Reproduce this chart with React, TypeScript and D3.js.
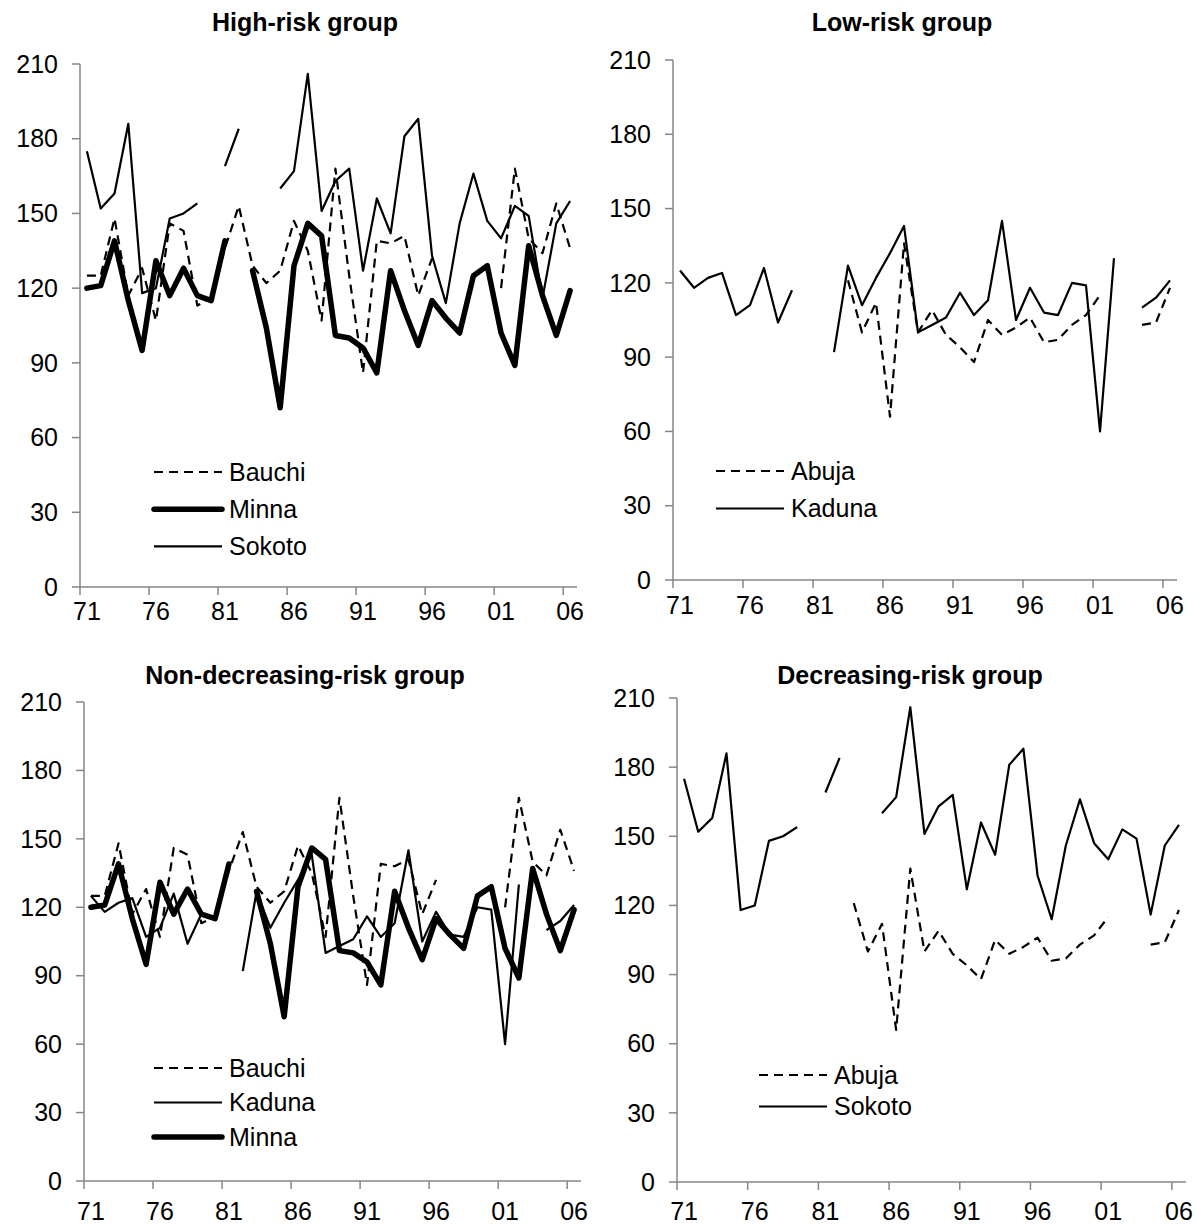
import React from 'react';
import * as d3 from 'd3';

// years on the category axis (1971..2006)
const years = [
  1971, 1972, 1973, 1974, 1975, 1976, 1977, 1978, 1979, 1980,
  1981, 1982, 1983, 1984, 1985, 1986, 1987, 1988, 1989, 1990,
  1991, 1992, 1993, 1994, 1995, 1996, 1997, 1998, 1999, 2000,
  2001, 2002, 2003, 2004, 2005, 2006,
];
const tickYears = [1971, 1976, 1981, 1986, 1991, 1996, 2001, 2006];
const tickLabels = ['71', '76', '81', '86', '91', '96', '01', '06'];
const yTicks = [0, 30, 60, 90, 120, 150, 180, 210];

const bauchi = [
  125, 125, 148, 117, 128, 107, 146, 143, 113, 116,
  136, 153, 129, 122, 127, 147, 135, 107, 168, 125,
  86, 139, 138, 141, 117, 132, null, null, null, null,
  120, 168, 140, 134, 154, 136,
];
const minna = [
  120, 121, 139, 115, 95, 131, 117, 128, 117, 115,
  139, null, 127, 104, 72, 129, 146, 141, 101, 100,
  96, 86, 127, 111, 97, 115, 108, 102, 125, 129,
  102, 89, 137, 117, 101, 119,
];
const sokoto = [
  175, 152, 158, 186, 118, 120, 148, 150, 154, null,
  169, 184, null, null, 160, 167, 206, 151, 163, 168,
  127, 156, 142, 181, 188, 133, 114, 146, 166, 147,
  140, 153, 149, 116, 146, 155,
];
const kaduna = [
  125, 118, 122, 124, 107, 111, 126, 104, 117, null,
  null, 92, 127, 111, 122, 132, 143, 100, 103, 106,
  116, 107, 113, 145, 105, 118, 108, 107, 120, 119,
  60, 130, null, 110, 114, 121,
];
const abuja = [
  null, null, null, null, null, null, null, null, null, null,
  null, null, 121, 100, 112, 66, 136, 100, 109, 99,
  94, 88, 105, 99, 102, 106, 96, 97, 103, 107,
  115, null, null, 103, 104, 118,
];

const lineStyles = {
  dashed: { width: 2.2, dash: '9,6' },
  thick: { width: 5.5, dash: undefined },
  thin: { width: 2.2, dash: undefined },
};

const panels = [
  {
    title: 'High-risk group',
    titleX: 305, titleY: 31,
    box: { left: 80, right: 577, top: 64, bottom: 587 },
    labelGap: 33,
    legend: { x: 154, y: 472, step: 37.2 },
    series: [
      { name: 'Bauchi', values: bauchi, style: 'dashed' },
      { name: 'Minna', values: minna, style: 'thick' },
      { name: 'Sokoto', values: sokoto, style: 'thin' },
    ],
  },
  {
    title: 'Low-risk group',
    titleX: 902, titleY: 31,
    box: { left: 673, right: 1177, top: 60, bottom: 580 },
    labelGap: 34,
    legend: { x: 716, y: 471, step: 37.5 },
    series: [
      { name: 'Abuja', values: abuja, style: 'dashed' },
      { name: 'Kaduna', values: kaduna, style: 'thin' },
    ],
  },
  {
    title: 'Non-decreasing-risk group',
    titleX: 305, titleY: 684,
    box: { left: 84, right: 581, top: 702, bottom: 1181 },
    labelGap: 39,
    legend: { x: 154, y: 1068, step: 34.5 },
    series: [
      { name: 'Bauchi', values: bauchi, style: 'dashed' },
      { name: 'Kaduna', values: kaduna, style: 'thin' },
      { name: 'Minna', values: minna, style: 'thick' },
    ],
  },
  {
    title: 'Decreasing-risk group',
    titleX: 910, titleY: 684,
    box: { left: 677, right: 1186, top: 698, bottom: 1182 },
    labelGap: 38,
    legend: { x: 759, y: 1075, step: 31.5 },
    series: [
      { name: 'Abuja', values: abuja, style: 'dashed' },
      { name: 'Sokoto', values: sokoto, style: 'thin' },
    ],
  },
];

const FONT = '"Liberation Sans", Arial, sans-serif';
const AXIS = '#868686';
const FS = 25;

function Panel({ p }) {
  const { left, right, top, bottom } = p.box;
  const x = d3.scaleBand().domain(years.map(String)).range([left, right]).padding(0);
  const bw = x.bandwidth();
  const y = d3.scaleLinear().domain([0, 210]).range([bottom, top]);
  const cx = (i) => x(String(years[i])) + bw / 2;

  const line = d3
    .line()
    .defined((d) => d != null)
    .x((_, i) => cx(i))
    .y((d) => y(d));

  return (
    <g>
      <text x={p.titleX} y={p.titleY} textAnchor="middle" fontFamily={FONT}
        fontWeight="bold" fontSize={FS}>{p.title}</text>

      {/* y axis */}
      <line x1={left} x2={left} y1={top} y2={bottom} stroke={AXIS} strokeWidth={1.5} />
      {yTicks.map((t) => (
        <g key={t}>
          <line x1={left - 8} x2={left} y1={y(t)} y2={y(t)} stroke={AXIS} strokeWidth={1.5} />
          <text x={left - 22} y={y(t)} dy="0.35em" textAnchor="end"
            fontFamily={FONT} fontSize={FS}>{t}</text>
        </g>
      ))}

      {/* x axis */}
      <line x1={left} x2={right} y1={bottom} y2={bottom} stroke={AXIS} strokeWidth={1.5} />
      {tickYears.map((yr, i) => (
        <g key={yr}>
          <line x1={x(String(yr))} x2={x(String(yr))} y1={bottom} y2={bottom + 8}
            stroke={AXIS} strokeWidth={1.5} />
          <text x={x(String(yr)) + bw / 2} y={bottom + p.labelGap} textAnchor="middle"
            fontFamily={FONT} fontSize={FS}>{tickLabels[i]}</text>
        </g>
      ))}

      {/* series */}
      {p.series.map((s) => {
        const st = lineStyles[s.style];
        return (
          <path key={s.name} d={line(s.values)} fill="none" stroke="#000"
            strokeWidth={st.width} strokeDasharray={st.dash}
            strokeLinejoin="round" strokeLinecap={s.style === 'thick' ? 'round' : 'butt'} />
        );
      })}

      {/* legend */}
      {p.series.map((s, i) => {
        const st = lineStyles[s.style];
        const ly = p.legend.y + i * p.legend.step;
        return (
          <g key={'lg' + s.name}>
            <line x1={p.legend.x} x2={p.legend.x + 68} y1={ly} y2={ly} stroke="#000"
              strokeWidth={st.width} strokeDasharray={st.dash}
              strokeLinecap={s.style === 'thick' ? 'round' : 'butt'} />
            <text x={p.legend.x + 75} y={ly} dy="0.35em" fontFamily={FONT}
              fontSize={FS}>{s.name}</text>
          </g>
        );
      })}
    </g>
  );
}

export default function App() {
  return (
    <div>
      <style>{'body{margin:0;background:#fff}'}</style>
      <svg width={1196} height={1226} style={{ display: 'block' }}>
        <rect width={1196} height={1226} fill="#fff" />
        {panels.map((p) => (
          <Panel key={p.title} p={p} />
        ))}
      </svg>
    </div>
  );
}
